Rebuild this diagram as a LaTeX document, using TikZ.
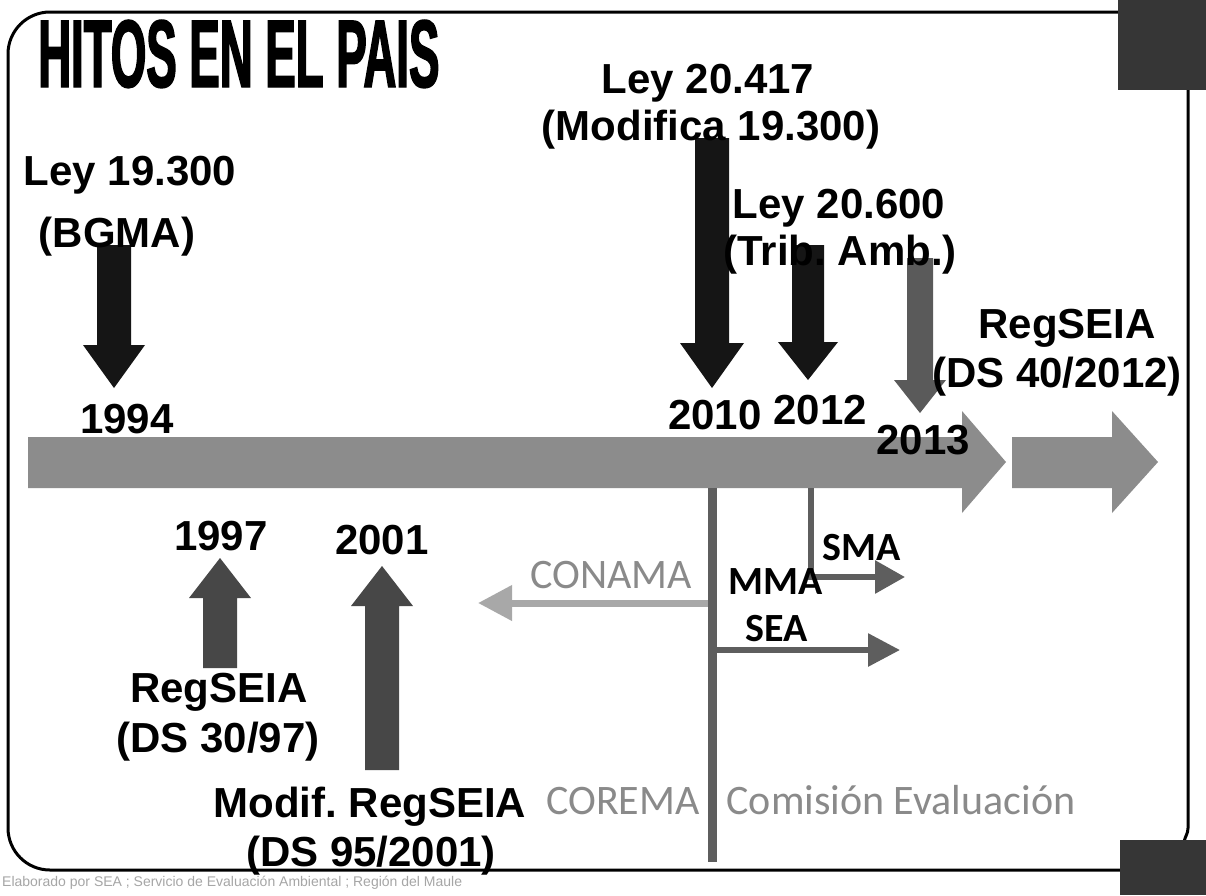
\documentclass[tikz,border=0pt]{standalone}
\usepackage{fontspec}
\setmainfont{Liberation Sans}
\newfontfamily\calfont{Carlito}
\newfontfamily\titlefont[BoldFeatures={FakeStretch=0.475,FakeBold=1.5}]{Liberation Sans}
\usetikzlibrary{arrows.meta}
\frenchspacing
\definecolor{inkdark}{HTML}{151515}
\definecolor{inkmid}{HTML}{474747}
\definecolor{inklight}{HTML}{5A5A5A}
\definecolor{barcol}{HTML}{8C8C8C}
\definecolor{conncol}{HTML}{5E5E5E}
\definecolor{faint}{HTML}{8A8A8A}
\definecolor{faintarrow}{HTML}{A8A8A8}
\definecolor{corner}{HTML}{363636}
\newcommand\blockarr[7]{% style, xc, yend, yheadbase, ytip, half shaft, half head
  \fill[#1] (#2-#6,#3) -- (#2+#6,#3) -- (#2+#6,#4) -- (#2+#7,#4) -- (#2,#5)
    -- (#2-#7,#4) -- (#2-#6,#4) -- cycle;}
\tikzset{
  lbl/.style={anchor=base, inner sep=0pt, font=\fontsize{42}{48}\selectfont\bfseries, text=black},
  yearlbl/.style={lbl},
  grayl/.style={anchor=base, inner sep=0pt, font=\fontsize{42}{48}\selectfont\calfont, text=faint},
  orgl/.style={anchor=base, inner sep=0pt, font=\fontsize{40}{46}\selectfont\calfont\bfseries, text=black},
  frame/.style={line width=3pt, draw=black, rounded corners=42pt},
  conn/.style={draw=conncol, line width=6pt},
  titlel/.style={anchor=base west, inner sep=0pt, font=\fontsize{96}{98}\selectfont\titlefont\bfseries},
}
\begin{document}
\begin{tikzpicture}[x=1pt, y=-1pt]
\useasboundingbox[fill=white] (0,0) rectangle (1206,895);

% frame and corner blocks
\draw[frame] (1120,12) -- (8,12) -- (8,870) -- (1122,870);
\draw[line width=3pt] (1188,88) -- (1188,828) to[out=-90,in=80] (1184,842);
\fill[corner] (1118,0) rectangle (1206,90);
\fill[corner] (1120,840) rectangle (1206,895);

% title
\node[titlel] (title) at (38,87) {HITOS EN EL PAIS};

% main timeline arrows
\fill[barcol] (28,437) -- (962,437) -- (962,411) -- (1006,462) -- (962,513) -- (962,488) -- (28,488) -- cycle;
\fill[barcol] (1012,437) -- (1112,437) -- (1112,411) -- (1158,462) -- (1112,513) -- (1112,488) -- (1012,488) -- cycle;

% milestone block arrows
\blockarr{inkdark}{114}{245}{345}{388}{17}{31}
\blockarr{inkdark}{712}{138}{343}{388}{17}{32}
\blockarr{inkdark}{808}{245}{342}{380}{16}{30}
\blockarr{inklight}{920}{258}{380}{413}{13}{26}
\blockarr{inkmid}{220}{668}{598}{558}{17}{31}
\blockarr{inkmid}{382}{770}{606}{566}{17}{31}

% labels above
\node[lbl] (l19300) at (130,185) {Ley 19.300};
\node[lbl] (bgma) at (117,247) {(BGMA)};
\node[lbl] (l20417) at (708,93) {Ley 20.417};
\node[lbl] (modif) at (711,140) {(Modifica 19.300)};
\node[lbl] (l20600) at (839,218) {Ley 20.600};
\node[lbl] (trib) at (840,265) {(Trib. Amb.)};
\node[lbl] (regseia40) at (1067,338) {RegSEIA};
\node[lbl] (ds40) at (1057,387) {(DS 40/2012)};

% years
\node[yearlbl] (y1994) at (127,433) {1994};
\node[yearlbl] (y2010) at (715,429) {2010};
\node[yearlbl] (y2012) at (820,424) {2012};
\node[yearlbl] (y2013) at (923,454) {2013};
\node[yearlbl] (y1997) at (221,550) {1997};
\node[yearlbl] (y2001) at (382,554) {2001};

% labels below
\node[lbl] (regseia30) at (219,702) {RegSEIA};
\node[lbl] (ds30) at (218,752) {(DS 30/97)};
\node[lbl] (modreg) at (370,817) {Modif. RegSEIA};
\node[lbl] (ds95) at (371,866) {(DS 95/2001)};

% institutional connectors
\coordinate (vtop) at (712,488);
\coordinate (vbot) at (712,862);
\coordinate (smatop) at (811,488);
\coordinate (smaend) at (905,577);
\coordinate (conamastart) at (712,603);
\coordinate (conamaend) at (478,603);
\coordinate (seastart) at (712,650);
\coordinate (seaend) at (900,650);
\draw[draw=faintarrow, line width=7pt, -{Triangle[width=34pt,length=34pt]}] (conamastart) -- (conamaend);
\draw[conn, -{Triangle[width=32pt,length=32pt]}] (seastart) -- (seaend);
\draw[conn, -{Triangle[width=32pt,length=30pt]}] (smatop) |- (smaend);
\draw[draw=conncol, line width=9pt] (vtop) -- (vbot);

\node[grayl] (conama) at (611,588) {CONAMA};
\node[orgl] (mma) at (776,594) {MMA};
\node[orgl] (sma) at (862,560) {SMA};
\node[orgl] (sea) at (777,641) {SEA};
\node[grayl] (corema) at (623,814) {COREMA};
\node[grayl] (comision) at (901,814) {Comisión Evaluación};

% footer
\node[anchor=base west, inner sep=0pt, font=\fontsize{14}{16}\selectfont, text=gray!70] (footer) at (2,886)
  {Elaborado por SEA ; Servicio de Evaluación Ambiental ; Región del Maule};
\end{tikzpicture}
\end{document}
